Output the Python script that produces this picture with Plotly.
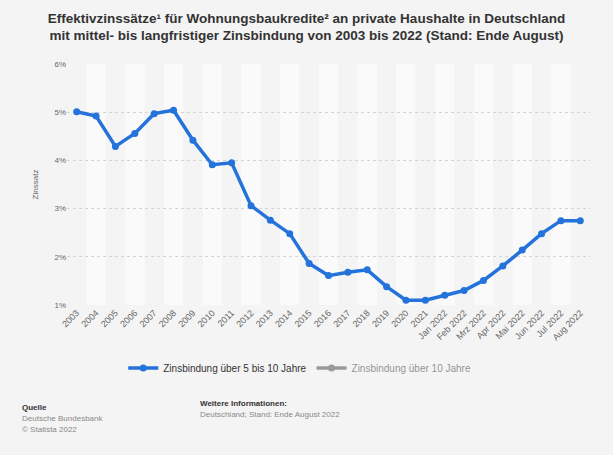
import plotly.graph_objects as go

categories = ["2003", "2004", "2005", "2006", "2007", "2008", "2009", "2010", "2011",
              "2012", "2013", "2014", "2015", "2016", "2017", "2018", "2019", "2020",
              "2021", "Jan 2022", "Feb 2022", "Mrz 2022", "Apr 2022", "Mai 2022",
              "Jun 2022", "Jul 2022", "Aug 2022"]
series_5_10 = [5.01, 4.92, 4.29, 4.56, 4.97, 5.04, 4.42, 3.91, 3.95,
               3.06, 2.76, 2.48, 1.86, 1.61, 1.68, 1.73, 1.38, 1.10,
               1.10, 1.20, 1.30, 1.51, 1.81, 2.14, 2.48, 2.75, 2.75]
series_10 = [None] * len(categories)
y_ticks = [1, 2, 3, 4, 5, 6]
y_tick_labels = ["1%", "2%", "3%", "4%", "5%", "6%"]

BLUE = "#2473db"
FONT = "Liberation Sans, Arial, sans-serif"
W, H = 613, 455
ML, MR, MT, MB = 67, 23, 64, 150

xs = list(range(len(categories)))

fig = go.Figure()
fig.add_trace(go.Scatter(
    x=xs, y=series_5_10, mode="lines+markers",
    name="Zinsbindung über 5 bis 10 Jahre",
    line=dict(color=BLUE, width=3.5),
    marker=dict(color=BLUE, size=7),
))
fig.add_trace(go.Scatter(
    x=xs, y=series_10, mode="lines+markers",
    name="Zinsbindung über 10 Jahre",
    line=dict(color="#434348", width=3.5),
    marker=dict(size=7),
    visible="legendonly",
))

shapes = []
for i in xs:
    if i % 2 == 1:
        shapes.append(dict(type="rect", xref="x", yref="paper",
                           x0=i - 0.5, x1=i + 0.5, y0=0, y1=1,
                           fillcolor="#fafafa", line=dict(width=0), layer="below"))


def px_to_paper(px, py):
    return (px - ML) / (W - ML - MR), (H - MB - py) / (H - MT - MB)


footer = [
    ("<b>Quelle</b>", 20, 407, "#333333"),
    ("Deutsche Bundesbank", 20, 418, "#888888"),
    ("© Statista 2022", 20, 429, "#888888"),
    ("<b>Weitere Informationen:</b>", 198, 403, "#333333"),
    ("Deutschland; Stand: Ende August 2022", 198, 414, "#888888"),
]
anns = []
for text, px, py, col in footer:
    xp, yp = px_to_paper(px, py)
    anns.append(dict(text=text, x=xp, y=yp, xref="paper", yref="paper",
                     showarrow=False, xanchor="left", yanchor="middle",
                     font=dict(family=FONT, size=8, color=col)))

lx, ly = px_to_paper(0, 368)

fig.update_layout(
    width=W, height=H,
    paper_bgcolor="#f4f4f4", plot_bgcolor="#f4f4f4",
    margin=dict(l=ML, r=MR, t=MT, b=MB, autoexpand=False),
    font=dict(family=FONT, size=9, color="#666666"),
    title=dict(
        text="<b>Effektivzinssätze¹ für Wohnungsbaukredite² an private Haushalte in Deutschland<br>mit mittel- bis langfristiger Zinsbindung von 2003 bis 2022 (Stand: Ende August)</b>",
        x=0.5, xanchor="center", y=0.95, yanchor="top",
        font=dict(family=FONT, size=13.5, color="#333333"),
    ),
    shapes=shapes,
    showlegend=True,
    legend=dict(orientation="h", x=0.445, xanchor="center", y=ly, yanchor="middle",
                font=dict(family=FONT, size=10, color="#333333"),
                bgcolor="rgba(0,0,0,0)", itemwidth=30),
    xaxis=dict(
        tickmode="array", tickvals=xs, ticktext=categories,
        range=[-0.5, len(categories) - 0.5], tickangle=-45,
        showgrid=False, zeroline=False, showline=False,
        tickfont=dict(family=FONT, size=9, color="#666666"),
    ),
    yaxis=dict(
        range=[1, 6], tickmode="array", tickvals=y_ticks, ticktext=y_tick_labels,
        showgrid=True, gridcolor="#d4d4d4", griddash="dot", gridwidth=1,
        zeroline=False, showline=False,
        tickfont=dict(family=FONT, size=8, color="#666666"),
        title=dict(text="Zinssatz", font=dict(family=FONT, size=8, color="#666666"), standoff=14),
    ),
    annotations=anns,
)

fig.write_html("out.html", config={"displayModeBar": False},
               post_script="document.body.style.margin='0';")
